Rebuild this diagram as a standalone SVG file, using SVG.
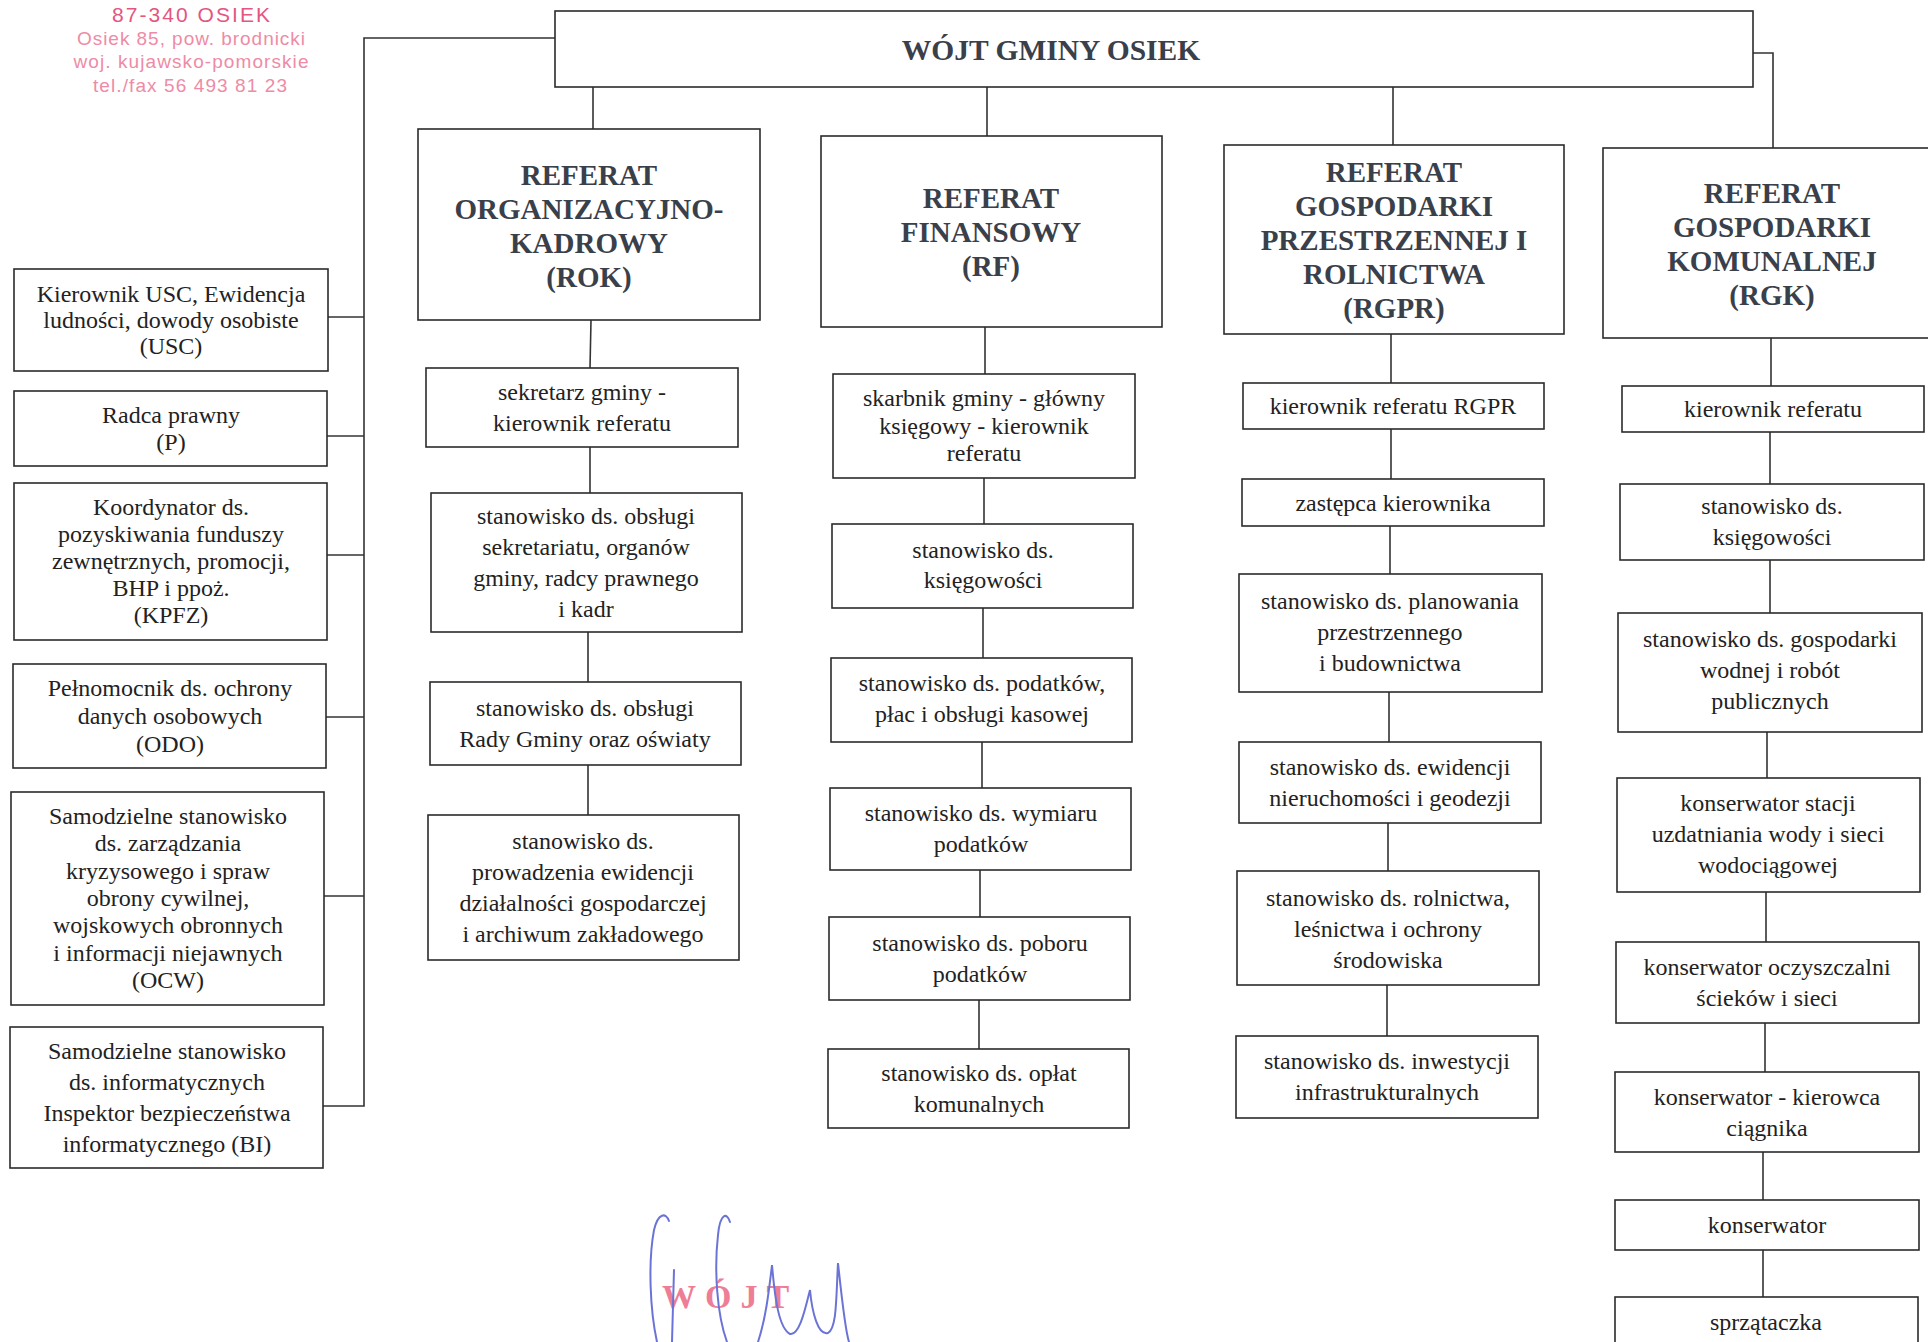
<svg xmlns="http://www.w3.org/2000/svg" width="1928" height="1342" viewBox="0 0 1928 1342">
<style>
.box{fill:#fff;stroke:#2b2b2b;stroke-width:1.6}
.conn{fill:none;stroke:#333;stroke-width:1.6}
.t{font-family:"Liberation Serif","Times New Roman",serif;font-size:24px;fill:#222;text-anchor:middle}
.h{font-family:"Liberation Serif","Times New Roman",serif;font-size:29px;font-weight:bold;fill:#3a404a;text-anchor:middle}
.st{font-family:"Liberation Sans",Arial,sans-serif;fill:#ee8ba6;text-anchor:middle;font-size:19px}
.sig{fill:none;stroke:#6b74d6;stroke-width:2;stroke-linecap:round}
</style>
<rect x="0" y="0" width="1928" height="1342" fill="#fff"/>

<g id="stamp">
<text class="st" x="191" y="22" style="font-size:21px;fill:#e4557f" textLength="158" lengthAdjust="spacing">87-340 OSIEK</text>
<text class="st" x="191" y="45" textLength="228" lengthAdjust="spacing">Osiek 85, pow. brodnicki</text>
<text class="st" x="191" y="68" textLength="235" lengthAdjust="spacing">woj. kujawsko-pomorskie</text>
<text class="st" x="190" y="92" textLength="194" lengthAdjust="spacing">tel./fax 56 493 81 23</text>
</g>

<g id="connectors">
<polyline class="conn" points="555,38 364,38 364,1106 323,1106"/>
<line class="conn" x1="328" y1="317" x2="364" y2="317"/>
<line class="conn" x1="327" y1="436" x2="364" y2="436"/>
<line class="conn" x1="327" y1="555" x2="364" y2="555"/>
<line class="conn" x1="326" y1="717" x2="364" y2="717"/>
<line class="conn" x1="324" y1="896" x2="364" y2="896"/>
<polyline class="conn" points="1753,53 1773,53 1773,148"/>
<line class="conn" x1="593" y1="87" x2="593" y2="129"/>
<line class="conn" x1="987" y1="87" x2="987" y2="136"/>
<line class="conn" x1="1393" y1="87" x2="1393" y2="145"/>
<line class="conn" x1="591" y1="320" x2="590" y2="368"/>
<line class="conn" x1="590" y1="447" x2="590" y2="493"/>
<line class="conn" x1="588" y1="632" x2="588" y2="682"/>
<line class="conn" x1="588" y1="765" x2="588" y2="815"/>
<line class="conn" x1="985" y1="327" x2="985" y2="374"/>
<line class="conn" x1="984" y1="478" x2="984" y2="524"/>
<line class="conn" x1="983" y1="608" x2="983" y2="658"/>
<line class="conn" x1="982" y1="742" x2="982" y2="788"/>
<line class="conn" x1="980" y1="870" x2="980" y2="917"/>
<line class="conn" x1="979" y1="1000" x2="979" y2="1049"/>
<line class="conn" x1="1391" y1="334" x2="1391" y2="383"/>
<line class="conn" x1="1391" y1="429" x2="1391" y2="479"/>
<line class="conn" x1="1390" y1="526" x2="1390" y2="574"/>
<line class="conn" x1="1389" y1="692" x2="1389" y2="742"/>
<line class="conn" x1="1388" y1="823" x2="1388" y2="871"/>
<line class="conn" x1="1387" y1="985" x2="1387" y2="1036"/>
<line class="conn" x1="1771" y1="338" x2="1771" y2="386"/>
<line class="conn" x1="1770" y1="432" x2="1770" y2="484"/>
<line class="conn" x1="1770" y1="560" x2="1770" y2="613"/>
<line class="conn" x1="1767" y1="732" x2="1767" y2="778"/>
<line class="conn" x1="1766" y1="892" x2="1766" y2="942"/>
<line class="conn" x1="1765" y1="1023" x2="1765" y2="1072"/>
<line class="conn" x1="1763" y1="1152" x2="1763" y2="1200"/>
<line class="conn" x1="1763" y1="1250" x2="1763" y2="1297"/>
</g>

<g id="wojt">
<rect class="box" x="555" y="11" width="1198" height="76"/>
<text class="h" x="1051" y="60" style="font-size:29.5px">WÓJT GMINY OSIEK</text>
</g>

<g id="usc">
<rect class="box" x="14" y="269" width="314" height="102"/>
<text class="t"><tspan x="171" y="302">Kierownik USC, Ewidencja</tspan><tspan x="171" y="328">ludności, dowody osobiste</tspan><tspan x="171" y="354">(USC)</tspan></text>
</g>
<g id="radca">
<rect class="box" x="14" y="391" width="313" height="75"/>
<text class="t"><tspan x="171" y="423">Radca prawny</tspan><tspan x="171" y="450">(P)</tspan></text>
</g>
<g id="kpfz">
<rect class="box" x="14" y="483" width="313" height="157"/>
<text class="t"><tspan x="171" y="515">Koordynator ds.</tspan><tspan x="171" y="542">pozyskiwania funduszy</tspan><tspan x="171" y="569">zewnętrznych, promocji,</tspan><tspan x="171" y="596">BHP i ppoż.</tspan><tspan x="171" y="623">(KPFZ)</tspan></text>
</g>
<g id="odo">
<rect class="box" x="13" y="664" width="313" height="104"/>
<text class="t"><tspan x="170" y="696">Pełnomocnik ds. ochrony</tspan><tspan x="170" y="724">danych osobowych</tspan><tspan x="170" y="752">(ODO)</tspan></text>
</g>
<g id="ocw">
<rect class="box" x="11" y="792" width="313" height="213"/>
<text class="t"><tspan x="168" y="824">Samodzielne stanowisko</tspan><tspan x="168" y="851">ds. zarządzania</tspan><tspan x="168" y="879">kryzysowego i spraw</tspan><tspan x="168" y="906">obrony cywilnej,</tspan><tspan x="168" y="933">wojskowych obronnych</tspan><tspan x="168" y="961">i informacji niejawnych</tspan><tspan x="168" y="988">(OCW)</tspan></text>
</g>
<g id="bi">
<rect class="box" x="10" y="1027" width="313" height="141"/>
<text class="t"><tspan x="167" y="1059">Samodzielne stanowisko</tspan><tspan x="167" y="1090">ds. informatycznych</tspan><tspan x="167" y="1121">Inspektor bezpieczeństwa</tspan><tspan x="167" y="1152">informatycznego (BI)</tspan></text>
</g>

<g id="rok">
<rect class="box" x="418" y="129" width="342" height="191"/>
<text class="h"><tspan x="589" y="185">REFERAT</tspan><tspan x="589" y="219">ORGANIZACYJNO-</tspan><tspan x="589" y="253">KADROWY</tspan><tspan x="589" y="287">(ROK)</tspan></text>
</g>
<g id="rok-1">
<rect class="box" x="426" y="368" width="312" height="79"/>
<text class="t"><tspan x="582" y="400">sekretarz gminy -</tspan><tspan x="582" y="431">kierownik referatu</tspan></text>
</g>
<g id="rok-2">
<rect class="box" x="431" y="493" width="311" height="139"/>
<text class="t"><tspan x="586" y="524">stanowisko ds. obsługi</tspan><tspan x="586" y="555">sekretariatu, organów</tspan><tspan x="586" y="586">gminy, radcy prawnego</tspan><tspan x="586" y="617">i kadr</tspan></text>
</g>
<g id="rok-3">
<rect class="box" x="430" y="682" width="311" height="83"/>
<text class="t"><tspan x="585" y="716">stanowisko ds. obsługi</tspan><tspan x="585" y="747">Rady Gminy oraz oświaty</tspan></text>
</g>
<g id="rok-4">
<rect class="box" x="428" y="815" width="311" height="145"/>
<text class="t"><tspan x="583" y="849">stanowisko ds.</tspan><tspan x="583" y="880">prowadzenia ewidencji</tspan><tspan x="583" y="911">działalności gospodarczej</tspan><tspan x="583" y="942">i archiwum zakładowego</tspan></text>
</g>

<g id="rf">
<rect class="box" x="821" y="136" width="341" height="191"/>
<text class="h"><tspan x="991" y="208">REFERAT</tspan><tspan x="991" y="242">FINANSOWY</tspan><tspan x="991" y="276">(RF)</tspan></text>
</g>
<g id="rf-1">
<rect class="box" x="833" y="374" width="302" height="104"/>
<text class="t"><tspan x="984" y="406">skarbnik gminy - główny</tspan><tspan x="984" y="434">księgowy - kierownik</tspan><tspan x="984" y="461">referatu</tspan></text>
</g>
<g id="rf-2">
<rect class="box" x="832" y="524" width="301" height="84"/>
<text class="t"><tspan x="983" y="558">stanowisko ds.</tspan><tspan x="983" y="588">księgowości</tspan></text>
</g>
<g id="rf-3">
<rect class="box" x="831" y="658" width="301" height="84"/>
<text class="t"><tspan x="982" y="691">stanowisko ds. podatków,</tspan><tspan x="982" y="722">płac i obsługi kasowej</tspan></text>
</g>
<g id="rf-4">
<rect class="box" x="830" y="788" width="301" height="82"/>
<text class="t"><tspan x="981" y="821">stanowisko ds. wymiaru</tspan><tspan x="981" y="852">podatków</tspan></text>
</g>
<g id="rf-5">
<rect class="box" x="829" y="917" width="301" height="83"/>
<text class="t"><tspan x="980" y="951">stanowisko ds. poboru</tspan><tspan x="980" y="982">podatków</tspan></text>
</g>
<g id="rf-6">
<rect class="box" x="828" y="1049" width="301" height="79"/>
<text class="t"><tspan x="979" y="1081">stanowisko ds. opłat</tspan><tspan x="979" y="1112">komunalnych</tspan></text>
</g>

<g id="rgpr">
<rect class="box" x="1224" y="145" width="340" height="189"/>
<text class="h"><tspan x="1394" y="182">REFERAT</tspan><tspan x="1394" y="216">GOSPODARKI</tspan><tspan x="1394" y="250">PRZESTRZENNEJ I</tspan><tspan x="1394" y="284">ROLNICTWA</tspan><tspan x="1394" y="318">(RGPR)</tspan></text>
</g>
<g id="rgpr-1">
<rect class="box" x="1243" y="383" width="301" height="46"/>
<text class="t" x="1393" y="414">kierownik referatu RGPR</text>
</g>
<g id="rgpr-2">
<rect class="box" x="1242" y="479" width="302" height="47"/>
<text class="t" x="1393" y="511">zastępca kierownika</text>
</g>
<g id="rgpr-3">
<rect class="box" x="1239" y="574" width="303" height="118"/>
<text class="t"><tspan x="1390" y="609">stanowisko ds. planowania</tspan><tspan x="1390" y="640">przestrzennego</tspan><tspan x="1390" y="671">i budownictwa</tspan></text>
</g>
<g id="rgpr-4">
<rect class="box" x="1239" y="742" width="302" height="81"/>
<text class="t"><tspan x="1390" y="775">stanowisko ds. ewidencji</tspan><tspan x="1390" y="806">nieruchomości i geodezji</tspan></text>
</g>
<g id="rgpr-5">
<rect class="box" x="1237" y="871" width="302" height="114"/>
<text class="t"><tspan x="1388" y="906">stanowisko ds. rolnictwa,</tspan><tspan x="1388" y="937">leśnictwa i ochrony</tspan><tspan x="1388" y="968">środowiska</tspan></text>
</g>
<g id="rgpr-6">
<rect class="box" x="1236" y="1036" width="302" height="82"/>
<text class="t"><tspan x="1387" y="1069">stanowisko ds. inwestycji</tspan><tspan x="1387" y="1100">infrastrukturalnych</tspan></text>
</g>

<g id="rgk">
<rect class="box" x="1603" y="148" width="345" height="190"/>
<text class="h"><tspan x="1772" y="203">REFERAT</tspan><tspan x="1772" y="237">GOSPODARKI</tspan><tspan x="1772" y="271">KOMUNALNEJ</tspan><tspan x="1772" y="305">(RGK)</tspan></text>
</g>
<g id="rgk-1">
<rect class="box" x="1622" y="386" width="302" height="46"/>
<text class="t" x="1773" y="417">kierownik referatu</text>
</g>
<g id="rgk-2">
<rect class="box" x="1620" y="484" width="304" height="76"/>
<text class="t"><tspan x="1772" y="514">stanowisko ds.</tspan><tspan x="1772" y="545">księgowości</tspan></text>
</g>
<g id="rgk-3">
<rect class="box" x="1618" y="613" width="304" height="119"/>
<text class="t"><tspan x="1770" y="647">stanowisko ds. gospodarki</tspan><tspan x="1770" y="678">wodnej i robót</tspan><tspan x="1770" y="709">publicznych</tspan></text>
</g>
<g id="rgk-4">
<rect class="box" x="1617" y="778" width="303" height="114"/>
<text class="t"><tspan x="1768" y="811">konserwator stacji</tspan><tspan x="1768" y="842">uzdatniania wody i sieci</tspan><tspan x="1768" y="873">wodociągowej</tspan></text>
</g>
<g id="rgk-5">
<rect class="box" x="1616" y="942" width="303" height="81"/>
<text class="t"><tspan x="1767" y="975">konserwator oczyszczalni</tspan><tspan x="1767" y="1006">ścieków i sieci</tspan></text>
</g>
<g id="rgk-6">
<rect class="box" x="1615" y="1072" width="304" height="80"/>
<text class="t"><tspan x="1767" y="1105">konserwator - kierowca</tspan><tspan x="1767" y="1136">ciągnika</tspan></text>
</g>
<g id="rgk-7">
<rect class="box" x="1615" y="1200" width="304" height="50"/>
<text class="t" x="1767" y="1233">konserwator</text>
</g>
<g id="rgk-8">
<rect class="box" x="1615" y="1297" width="303" height="60"/>
<text class="t" x="1766" y="1330">sprzątaczka</text>
</g>

<g id="signature">
<text x="662" y="1308" style="font-family:'Liberation Serif','Times New Roman',serif;font-weight:bold;font-size:34px;letter-spacing:9px;fill:#ee7d96">WÓJT</text>
<path class="sig" d="M669,1221 C666,1212 658,1213 654,1230 C648,1262 650,1310 657,1342"/>
<path class="sig" d="M674,1270 L672,1342"/>
<path class="sig" d="M730,1222 C727,1212 720,1213 718,1235 C714,1270 717,1315 727,1342"/>
<path class="sig" d="M758,1342 C766,1318 769,1290 772,1265 C775,1300 779,1328 790,1334 C800,1336 806,1305 810,1290 C812,1312 818,1336 828,1333 C837,1328 836,1298 838,1263 C842,1300 845,1330 849,1342"/>
</g>
</svg>
